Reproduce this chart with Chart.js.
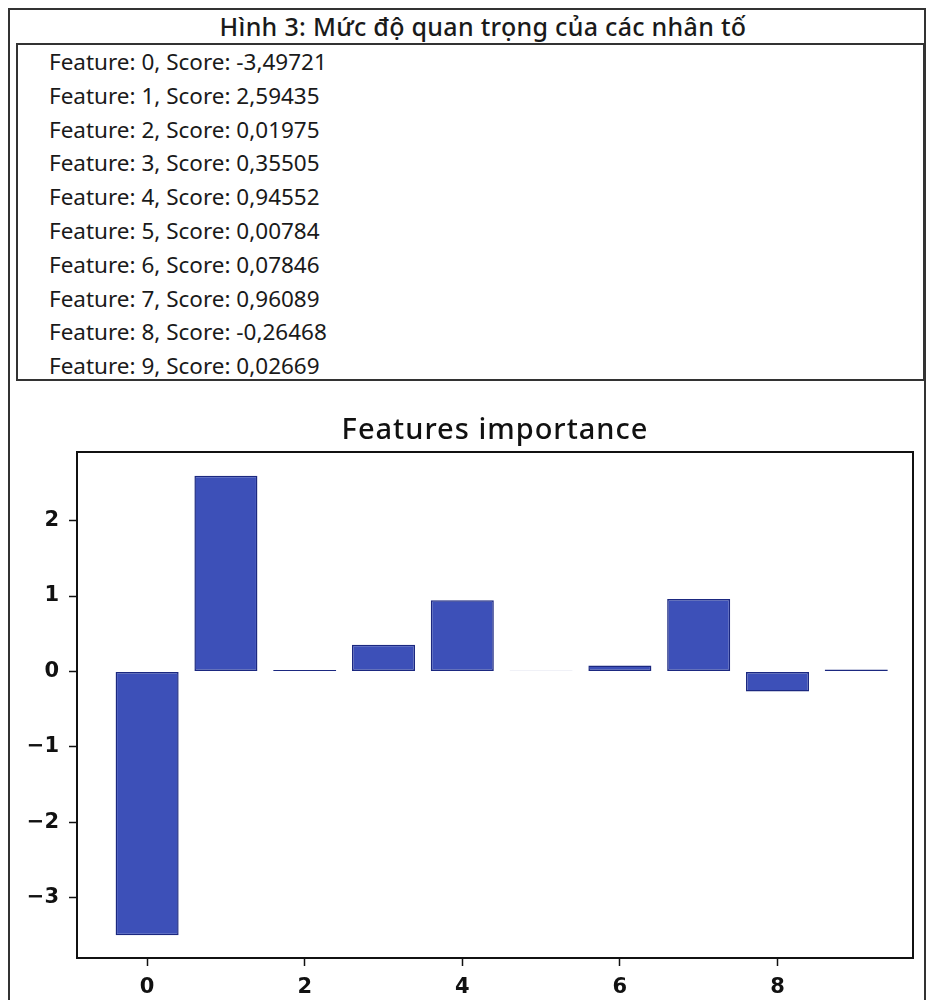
<!DOCTYPE html>
<html>
<head>
<meta charset="utf-8">
<script src="https://cdn.jsdelivr.net/npm/chart.js@4.4.0/dist/chart.umd.min.js"></script>
<style>
    html, body { margin: 0; padding: 0; background: #fff; }
    body { width: 930px; height: 1000px; position: relative; overflow: hidden; font-family: "Noto Sans", sans-serif; color: #1a1a1a; }
    #frame { position: absolute; left: 8px; top: 8px; width: 918px; height: 1010px; border: 2px solid #333; box-sizing: border-box; }
    #heading { position: absolute; left: 40px; top: 10px; width: 886px; height: 34px; text-align: center; font-size: 25px; font-weight: 500; letter-spacing: 0.3px; line-height: 32px; }
    #scores { position: absolute; left: 16px; top: 43px; width: 909px; height: 338px; border: 2px solid #333; box-sizing: border-box; padding: 0 0 0 31px; }
    #scores div { font-size: 22.5px; line-height: 33.8px; }
    #wrap { position: absolute; left: 0; top: 390px; width: 930px; height: 610px; }
    #chart-title { position: absolute; left: 77px; top: 409px; width: 836px; text-align: center; font-size: 29px; font-weight: 500; letter-spacing: 1px; line-height: 38px; color: #111; }
</style>
</head>
<body>
<div id="frame"></div>
<div id="heading">Hình 3: Mức độ quan trọng của các nhân tố</div>
<div id="scores"></div>
<div id="wrap"><canvas id="chart"></canvas></div>
<div id="chart-title"></div>
<script>
const features = [0, 1, 2, 3, 4, 5, 6, 7, 8, 9];
const scores = [-3.49721, 2.59435, 0.01975, 0.35505, 0.94552, 0.00784, 0.07846, 0.96089, -0.26468, 0.02669];
const xTicks = [0, 2, 4, 6, 8];
const yTicks = [-3, -2, -1, 0, 1, 2];

const chartTitle = 'Features importance';

const scoresBox = document.getElementById('scores');
features.forEach((f, i) => {
    const line = document.createElement('div');
    const score = scores[i].toFixed(5).replace('.', ',');
    line.textContent = `Feature: ${f}, Score: ${score}`;
    scoresBox.appendChild(line);
});

// title sits over the plot area, not the whole canvas
document.getElementById('chart-title').textContent = chartTitle;

// matplotlib-style box round the plot area
const boxPlugin = {
    id: 'box',
    afterDraw(chart) {
        const { ctx, chartArea: a } = chart;
        ctx.save();
        ctx.strokeStyle = '#111';
        ctx.lineWidth = 2;
        ctx.strokeRect(a.left, a.top, a.right - a.left, a.bottom - a.top);
        ctx.restore();
    },
};

const ctx = document.getElementById('chart').getContext('2d');
new Chart(ctx, {
    type: 'bar',
    data: {
        datasets: [{
            data: features.map((f, i) => ({ x: f, y: scores[i] })),
            backgroundColor: '#3d50b8',
            borderColor: '#1b2880',
            borderWidth: 1.5,
            borderSkipped: false,
            barPercentage: 1,
            categoryPercentage: 0.8,
        }],
    },
    options: {
        responsive: true,
        maintainAspectRatio: false,
        animation: false,
        layout: { padding: { left: 0, right: 17, top: 62, bottom: 0 } },
        plugins: {
            legend: { display: false },
            tooltip: { enabled: false },
            title: { display: false },
        },
        scales: {
            x: {
                type: 'linear',
                offset: false,
                min: -0.89,
                max: 9.72,
                afterBuildTicks: (axis) => { axis.ticks = xTicks.map((v) => ({ value: v })); },
                afterFit: (axis) => { axis.height = 42; },
                grid: { offset: false, drawOnChartArea: false, drawTicks: true, tickLength: 8, tickWidth: 1.5, color: '#111' },
                border: { display: true, color: '#111', width: 2 },
                ticks: {
                    color: '#111',
                    padding: 9,
                    font: { family: 'DejaVu Sans', size: 21, weight: 'bold' },
                },
            },
            y: {
                min: -3.8,
                max: 2.91,
                afterBuildTicks: (axis) => { axis.ticks = yTicks.map((v) => ({ value: v })); },
                afterFit: (axis) => { axis.width = 77; },
                grid: { drawOnChartArea: false, drawTicks: true, tickLength: 8, tickWidth: 1.5, color: '#111' },
                border: { display: true, color: '#111', width: 2 },
                ticks: {
                    color: '#111',
                    padding: 10,
                    font: { family: 'DejaVu Sans', size: 21, weight: 'bold' },
                    callback: (v) => (v < 0 ? '\u2212' + Math.abs(v) : String(v)),
                },
            },
        },
    },
    plugins: [boxPlugin],
});
</script>
</body>
</html>
